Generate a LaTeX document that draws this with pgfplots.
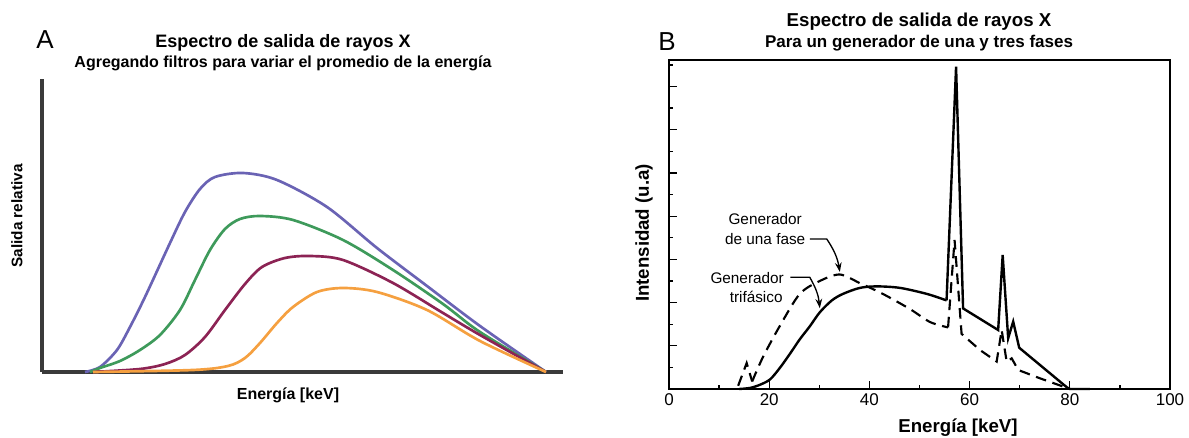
\documentclass[border=0pt]{standalone}
\usepackage{fontspec}
\setmainfont{Liberation Sans}
\usepackage{pgfplots}
\pgfplotsset{compat=1.18}
\usetikzlibrary{arrows.meta}
\definecolor{axgray}{HTML}{3A3A3A}
\definecolor{cpurple}{HTML}{6A63B4}
\definecolor{cgreen}{HTML}{3E9A5B}
\definecolor{cmaroon}{HTML}{8C2354}
\definecolor{corange}{HTML}{F5A040}

\begin{document}
\begin{tikzpicture}
\useasboundingbox (0,0) rectangle (891.75pt,328.5pt);

% ---- panel A: filtered spectra (units: pixels of the reference) ----
\begin{axis}[
    at={(31.5pt,49.5pt)}, anchor=south west,
    width=390.75pt, height=219.75pt, scale only axis,
    xmin=42, xmax=563, ymin=0, ymax=293,
    axis lines*=left,
    axis line style={line width=2.4pt, color=axgray, -},
    x axis line style={line width=2.4pt, color=axgray, -},
    y axis line style={line width=2.4pt, color=axgray, -},
    xtick=\empty, ytick=\empty,
    clip=false,
    every axis plot/.append style={line width=2pt, smooth, no markers},
]
\addplot[cpurple] coordinates {(85,0) (100,5) (117,22) (130,45) (145,75) (170,129) (185,160)
    (200,183) (215,195) (243,199) (277,192) (327,165) (377,124) (427,86) (480,46) (546,0)};
\addplot[cgreen] coordinates {(90,0) (100,4) (120,11) (140,22) (160,37) (180,62) (195,92)
    (210,122) (225,143) (240,153) (260,156) (293,152) (343,132) (393,102) (443,68) (480,40) (546,0)};
\addplot[cmaroon] coordinates {(93,0) (140,3) (165,8) (185,17) (205,35) (225,62) (245,88)
    (262,105) (285,114) (310,116) (343,112) (393,89) (443,59) (480,37) (546,0)};
\addplot[corange] coordinates {(93,0) (193,2) (228,6) (245,14) (260,29) (277,49) (293,65)
    (317,80) (343,84) (377,80) (427,62) (480,31) (546,0)};
\end{axis}

\node[font=\fontsize{19.5}{22}\selectfont] at (33.75pt,298.5pt) {A};
\node[font=\bfseries\fontsize{13.5}{15}\selectfont] at (212.25pt,296.25pt) {Espectro de salida de rayos X};
\node[font=\bfseries\fontsize{12}{14}\selectfont] at (212.25pt,281.25pt) {Agregando filtros para variar el promedio de la energía};
\node[font=\bfseries\fontsize{12}{14}\selectfont] at (216pt,32.25pt) {Energía [keV]};
\node[font=\bfseries\fontsize{11.5}{13}\selectfont, rotate=90] at (12.75pt,166.5pt) {Salida relativa};

% ---- panel B: single and three phase generators ----
\begin{axis}[
    at={(501.75pt,36.75pt)}, anchor=south west,
    width=375.75pt, height=246.75pt, scale only axis,
    xmin=0, xmax=100, ymin=0, ymax=15.23,
    axis line style={line width=1.2pt},
    tick align=inside, xtick pos=bottom, ytick pos=left,
    xtick={0,20,...,100}, minor xtick={10,30,...,90},
    ytick={0,2,...,14}, minor ytick={1,3,...,15}, yticklabels={},
    major tick length=6pt, minor tick length=3pt,
    every tick/.style={black, line width=1pt},
    tick label style={font=\fontsize{12.75}{14}\selectfont},
    /pgf/number format/assume math mode=true,
    clip=false,
]
% trifasico (solid)
\addplot[black, line width=1.8pt, no markers] coordinates {(0,0) (14,0)};
\addplot[black, line width=1.8pt, no markers, smooth] coordinates {(14,0) (16.2,0.05) (18.2,0.2)
    (20.2,0.45) (22.2,1.0) (24.2,1.65) (26.1,2.3) (28.1,2.9) (30.1,3.55) (32.5,4.1) (34.7,4.4)
    (38.1,4.68) (41.5,4.75) (46.1,4.68) (51.5,4.4) (55.4,4.1)};
\addplot[black, line width=1.8pt, no markers] coordinates {(55.4,4.1) (57.3,14.92) (58.7,3.73)
    (65.7,2.73) (66.6,6.2) (67.7,2.35) (68.7,3.12) (69.9,1.91) (79.4,0.08) (80,0) (84,0)};
% una fase (dashed)
\addplot[black, line width=1.6pt, dash pattern=on 8pt off 5pt, no markers] coordinates {
    (13.8,0.15) (15.5,1.2) (16.6,0.35)};
\addplot[black, line width=1.6pt, dash pattern=on 8pt off 5pt, no markers, smooth] coordinates {
    (16.6,0.35) (18.8,1.5) (22.2,2.95) (26.1,4.4) (30.1,5.0) (34.1,5.3) (38.1,4.9) (42.7,4.4)
    (48.1,3.7) (52.1,3.1) (55.7,2.85)};
\addplot[black, line width=1.6pt, dash pattern=on 8pt off 5pt, no markers] coordinates {
    (55.7,2.85) (57.0,6.9) (58.4,2.55) (62.1,1.8) (65.4,1.27) (66.4,2.73) (67.4,1.26) (68.4,1.42)
    (69.7,0.88) (74.1,0.49) (78.7,0.11) (80,0)};

\node[font=\fontsize{11.5}{13}\selectfont] at (axis cs:19.2,7.87) {Generador};
\node[font=\fontsize{11.5}{13}\selectfont] at (axis cs:19.2,6.94) {de una fase};
\node[font=\fontsize{11.5}{13}\selectfont] at (axis cs:15.6,5.14) {Generador};
\node[font=\fontsize{11.5}{13}\selectfont] at (axis cs:17.4,4.26) {trifásico};
\draw[line width=1pt, -{Stealth[length=7pt,width=5pt]}] (axis cs:28.1,6.94) -- (axis cs:31.5,6.94)
    to[bend left=12] (axis cs:34.1,5.42);
\draw[line width=1pt, -{Stealth[length=7pt,width=5pt]}] (axis cs:24.2,5.17) -- (axis cs:28.1,5.17)
    to[bend left=12] (axis cs:30.1,3.74);
\end{axis}

\node[font=\fontsize{19.5}{22}\selectfont] at (500.25pt,297pt) {B};
\node[font=\bfseries\fontsize{14}{16}\selectfont] at (689.25pt,312pt) {Espectro de salida de rayos X};
\node[font=\bfseries\fontsize{12.75}{14}\selectfont] at (689.25pt,296.25pt) {Para un generador de una y tres fases};
\node[font=\bfseries\fontsize{14}{16}\selectfont] at (718.5pt,7.5pt) {Energía [keV]};
\node[font=\bfseries\fontsize{14}{16}\selectfont, rotate=90] at (483pt,153.75pt) {Intensidad (u.a)};
\end{tikzpicture}
\end{document}
